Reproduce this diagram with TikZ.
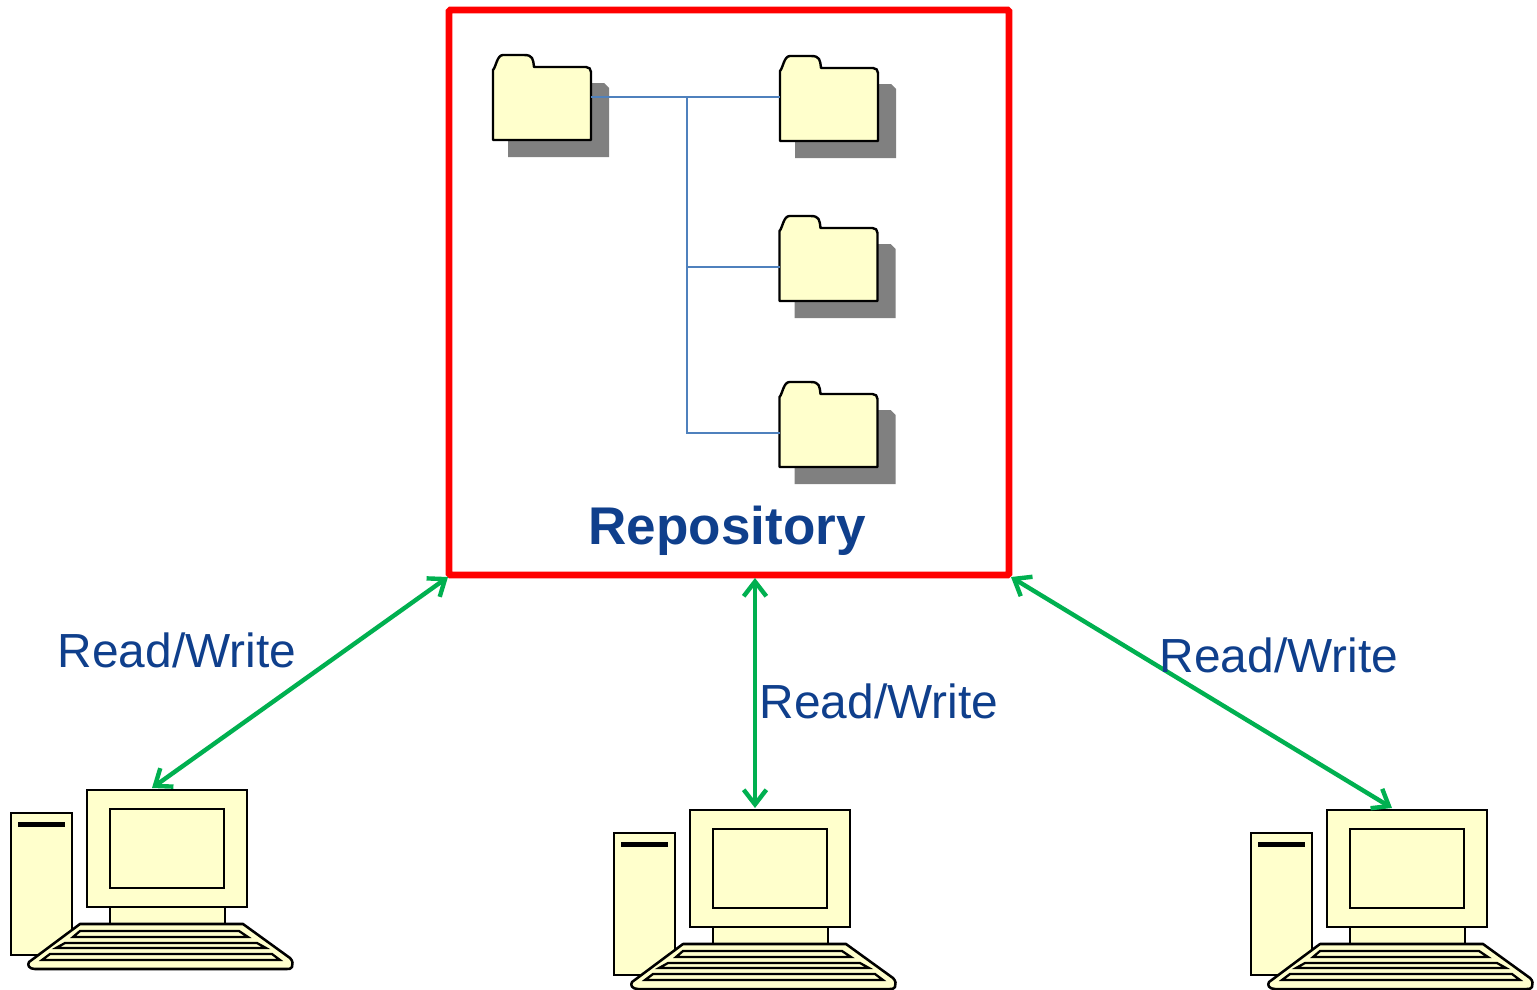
\documentclass[tikz,border=0pt]{standalone}
\usepackage{fontspec}
\setmainfont{Liberation Sans}
\usetikzlibrary{arrows.meta}
\definecolor{cream}{HTML}{FFFFCC}
\definecolor{navy}{HTML}{0F3F8C}
\definecolor{linkgreen}{HTML}{00B050}
\definecolor{treeblue}{HTML}{4F81BD}
\definecolor{shadowgray}{HTML}{808080}
\tikzset{
  x=0.75pt, y=-0.75pt,
  part/.style={draw=black, fill=cream, line width=1.9pt, line join=miter},
  keyrow/.style={draw=black, fill=cream, line width=1.7pt},
  rw/.style={text=navy, font=\fontsize{35.9}{40}\selectfont, inner sep=0pt},
  link/.style={draw=linkgreen, line width=3.3pt, {Straight Barb[length=11pt,width=17pt,line width=3.3pt]}-{Straight Barb[length=11pt,width=17pt,line width=3.3pt]}},
  tree/.style={draw=treeblue, line width=1.2pt},
  folder/.pic={
    \fill[shadowgray] (15,28) -- (111,28) -- (116,33) -- (116,102) -- (15,102) -- cycle;
    \draw[part, line join=round, line width=1.8pt] (0,85) -- (0,15) .. controls (3,12) and (4,0) .. (10,0)
      -- (31,0) .. controls (40,0) and (40,4) .. (41,12) -- (93,12) .. controls (96,12) and (98,14) .. (98,17) -- (98,85) -- cycle;
    \coordinate (-left) at (0,41);
    \coordinate (-right) at (98,42);
    \coordinate (-lowleft) at (0,51);
  },
  computer/.pic={
    % origin is the top left corner of the monitor
    \draw[part] (-76,23) rectangle (-15,165);
    \fill[black] (-69,32) rectangle (-22,37);
    \draw[part] (23,117) rectangle (138,140);
    \draw[part] (0,0) rectangle (160,117);
    \draw[part] (23,19) rectangle (137,98);
    \draw[part, line join=round] (-7,134) -- (156,134) -- (203,168) .. controls (206,171) and (206,174) .. (205,177)
       .. controls (204,179) and (202,179) .. (200,179) -- (-52,179) .. controls (-58,179) and (-60,175) .. (-58,172) -- cycle;
    \draw[keyrow] (-7,141) -- (152,141) -- (161,147) -- (-14,147) -- cycle;
    \draw[keyrow] (-22,153) -- (170,153) -- (179,158) -- (-31,158) -- cycle;
    \draw[keyrow] (-37,164) -- (185,164) -- (193,170) -- (-45,170) -- cycle;
    \coordinate (-top) at (65,-2);
  }
}
\begin{document}
\begin{tikzpicture}
\useasboundingbox (0,0) rectangle (1537,989);
\fill[white] (0,0) rectangle (1537,989);

\pic (pca) at (87,790) {computer};
\pic (pcb) at (690,810) {computer};
\pic (pcc) at (1327,810) {computer};

\node[draw=red, line width=5pt, rounded corners=1pt, inner sep=0pt, outer sep=0pt,
      minimum width=420pt, minimum height=423.75pt, anchor=north west] (repo) at (449,10) {};

\pic (froot) at (493,55) {folder};
\pic (fa) at (780,56) {folder};
\pic (fb) at (779.5,216) {folder};
\pic (fc) at (779.5,382) {folder};

\coordinate (trunk) at (687,97);
\draw[tree] (froot-right) -- (fa-left);
\draw[tree] (trunk) |- (fb-lowleft);
\draw[tree] (trunk) |- (fc-lowleft);

\node[text=navy, font=\fontsize{39.8}{44}\bfseries\selectfont, inner sep=0pt] (repolabel) at (727,531) {Repository};

\coordinate (ra) at (448,577);
\coordinate (rb) at (755,578);
\coordinate (rc) at (1011,577);
\draw[link] (ra) -- (pca-top);
\draw[link] (rb) -- (pcb-top);
\draw[link] (rc) -- (pcc-top);

\node[rw] (la) at (177,650) {Read/Write};
\node[rw] (lb) at (879,701) {Read/Write};
\node[rw] (lc) at (1279,655) {Read/Write};
\end{tikzpicture}
\end{document}
